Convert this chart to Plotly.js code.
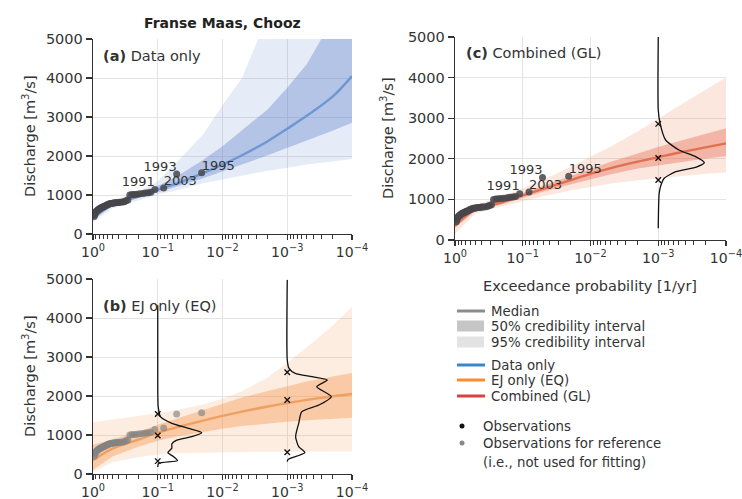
<!DOCTYPE html>
<html>
<head>
<meta charset="utf-8">
<script src="https://cdn.plot.ly/plotly-3.0.1.min.js"></script>
<style>html,body{margin:0;padding:0;background:#fff;}#chart{width:742px;height:499px;}</style>
</head>
<body>
<div id="chart"></div>
<script>
// ---------- data ----------
const probGrid = [1, 0.5, 0.2, 0.1, 0.05, 0.02, 0.01, 0.005, 0.002, 0.001, 5e-4, 2e-4, 1e-4];

// (a) Data only
const aMed  = [400, 760, 960, 1140, 1300, 1560, 1780, 2020, 2380, 2700, 3030, 3520, 4050];
const aLo50 = [360, 720, 920, 1080, 1220, 1430, 1600, 1780, 2020, 2220, 2400, 2650, 2850];
const aHi50 = [440, 800, 1010, 1230, 1480, 1900, 2250, 2650, 3200, 3750, 4350, 5500, 6600];
const aLo95 = [300, 660, 860, 1010, 1120, 1300, 1400, 1500, 1620, 1700, 1780, 1860, 1920];
const aHi95 = [500, 860, 1080, 1350, 1850, 2550, 3300, 4000, 5600, 7000, 8500, 11000, 13000];

// (b) EJ only (EQ)
const bMed  = [350, 650, 880, 1060, 1200, 1370, 1490, 1600, 1730, 1820, 1900, 1990, 2050];
const bLo50 = [100, 450, 700, 850, 960, 1080, 1160, 1230, 1300, 1340, 1380, 1420, 1440];
const bHi50 = [750, 900, 1080, 1260, 1420, 1640, 1800, 1960, 2130, 2250, 2370, 2500, 2590];
const bLo95 = [50, 300, 430, 500, 530, 550, 560, 565, 570, 572, 575, 578, 580];
const bHi95 = [1330, 1400, 1480, 1560, 1640, 1780, 1930, 2120, 2480, 2850, 3250, 3800, 4280];

// (c) Combined (GL)
const cMed  = [350, 750, 930, 1100, 1260, 1470, 1630, 1770, 1930, 2040, 2150, 2280, 2380];
const cLo50 = [300, 710, 880, 1040, 1190, 1370, 1500, 1620, 1760, 1840, 1920, 2010, 2060];
const cHi50 = [400, 790, 980, 1160, 1330, 1580, 1760, 1930, 2130, 2290, 2430, 2620, 2750];
const cLo95 = [150, 650, 830, 960, 1080, 1220, 1310, 1390, 1470, 1520, 1570, 1630, 1660];
const cHi95 = [450, 860, 1080, 1280, 1480, 1800, 2050, 2300, 2680, 3000, 3300, 3700, 4000];

// Observations (annual maxima) with exceedance probabilities
const obsP = [0.021, 0.051, 0.081, 0.111, 0.128, 0.14, 0.155, 0.17, 0.19, 0.21, 0.23, 0.25, 0.27,
  0.29, 0.31, 0.33, 0.35, 0.38, 0.40, 0.42, 0.44, 0.46, 0.48, 0.50,
  0.52, 0.54, 0.56, 0.58, 0.60, 0.62, 0.65, 0.67, 0.69, 0.71,
  0.73, 0.75, 0.77, 0.79, 0.81, 0.83, 0.85, 0.88, 0.90, 0.92, 0.94, 0.96];
const obsQ = [1570, 1540, 1180, 1140, 1070, 1060, 1050, 1040, 1030, 1020, 1015, 1010, 1000,
  870, 850, 830, 820, 815, 810, 805, 800, 800, 795, 790,
  785, 780, 770, 760, 750, 735, 720, 710, 700, 690,
  680, 670, 660, 650, 640, 625, 610, 590, 570, 540, 500, 450];
const yearLabels = ['1995', '1993', '2003', '1991'];

// Posterior densities at selected probabilities (relative density, peak = 1)
const densB1P = 0.1;
const densB1Q = [180, 273, 342, 444, 547, 658, 770, 855, 957, 1060, 1170, 1300, 1470, 1726, 2500, 4330];
const densB1D = [0, 0.02, 0.45, 0.36, 0.23, 0.32, 0.32, 0.41, 0.77, 1.0, 0.70, 0.32, 0.06, 0.01, 0, 0];
const quantB1 = [330, 990, 1540];

const densB2P = 0.001;
const densB2Q = [316, 376, 547, 701, 957, 1299, 1598, 1769, 1983, 2239, 2410, 2496, 2581, 2709, 2923, 4974];
const densB2D = [0, 0.02, 0.40, 0.26, 0.19, 0.26, 0.33, 0.72, 1.0, 0.67, 0.91, 0.56, 0.18, 0.04, 0, 0];
const quantB2 = [560, 1900, 2610];

const densCP = 0.001;
const densCQ = [288, 1150, 1355, 1520, 1683, 1790, 1905, 2052, 2217, 2463, 2874, 3202, 5000];
const densCD = [0, 0.02, 0.06, 0.13, 0.38, 0.81, 1.0, 0.81, 0.45, 0.16, 0.04, 0, 0];
const quantC = [1480, 2020, 2860];

const xTickVals = [1, 0.1, 0.01, 0.001, 0.0001];
const xTickText = ['10<sup>0</sup>', '10<sup>−1</sup>', '10<sup>−2</sup>', '10<sup>−3</sup>', '10<sup>−4</sup>'];
const yTickVals = [0, 1000, 2000, 3000, 4000, 5000];

// ---------- styling ----------
const FONT = 'DejaVu Sans, Verdana, sans-serif';
const TXT = '#333';
const DENS_WIDTH = 0.68; // decades of horizontal extent of density peak

const colors = {
  a: {med: '#7097d2', b50: 'rgba(90,125,200,0.36)', b95: 'rgba(90,125,200,0.15)'},
  b: {med: '#eea060', b50: 'rgba(245,150,80,0.40)', b95: 'rgba(245,150,80,0.17)'},
  c: {med: '#e07050', b50: 'rgba(228,100,70,0.38)', b95: 'rgba(240,120,80,0.18)'}
};

const traces = [];
function bands(xa, ya, med, lo50, hi50, lo95, hi95, col) {
  const base = {x: probGrid, xaxis: xa, yaxis: ya, mode: 'lines', hoverinfo: 'skip', showlegend: false};
  traces.push(Object.assign({}, base, {y: lo95, line: {width: 0}}));
  traces.push(Object.assign({}, base, {y: hi95, line: {width: 0}, fill: 'tonexty', fillcolor: col.b95}));
  traces.push(Object.assign({}, base, {y: lo50, line: {width: 0}}));
  traces.push(Object.assign({}, base, {y: hi50, line: {width: 0}, fill: 'tonexty', fillcolor: col.b50}));
  traces.push(Object.assign({}, base, {y: med, line: {width: 2.4, color: col.med, shape: 'spline'}}));
}
function obs(xa, ya, color, withLabels) {
  traces.push({x: obsP, y: obsQ, xaxis: xa, yaxis: ya, mode: 'markers', showlegend: false, hoverinfo: 'skip',
    marker: {size: 7, color: color, line: {width: 0}}});
  if (withLabels) {
    traces.push({x: obsP.slice(0, 4), y: obsQ.slice(0, 4), xaxis: xa, yaxis: ya, mode: 'text', showlegend: false,
      hoverinfo: 'skip', text: yearLabels,
      textposition: ['top right', 'top left', 'top right', 'top left'],
      textfont: {family: FONT, size: 13, color: TXT}});
  }
}
function density(xa, ya, p0, qs, ds, quants) {
  const lp = Math.log10(p0);
  const xs = ds.map(d => Math.pow(10, lp - DENS_WIDTH * d));
  traces.push({x: xs, y: qs, xaxis: xa, yaxis: ya, mode: 'lines', showlegend: false, hoverinfo: 'skip',
    line: {color: '#111', width: 1.3, shape: 'spline', smoothing: 0.6}});
  traces.push({x: quants.map(() => p0), y: quants, xaxis: xa, yaxis: ya, mode: 'markers', showlegend: false,
    hoverinfo: 'skip', marker: {symbol: 'x-thin-open', size: 5.5, color: '#111', line: {color: '#111', width: 1.4}}});
}

// (a)
bands('x', 'y', aMed, aLo50, aHi50, aLo95, aHi95, colors.a);
obs('x', 'y', 'rgba(70,70,75,0.85)', true);
// (b)
bands('x2', 'y2', bMed, bLo50, bHi50, bLo95, bHi95, colors.b);
obs('x2', 'y2', 'rgba(130,130,130,0.65)', false);
density('x2', 'y2', densB1P, densB1Q, densB1D, quantB1);
density('x2', 'y2', densB2P, densB2Q, densB2D, quantB2);
// (c)
bands('x3', 'y3', cMed, cLo50, cHi50, cLo95, cHi95, colors.c);
obs('x3', 'y3', 'rgba(70,70,75,0.85)', true);
density('x3', 'y3', densCP, densCQ, densCD, quantC);

// minor tick positions (2..9 within each decade)
const minorVals = [];
for (let e = 0; e > -4; e--) for (let m = 2; m <= 9; m++) minorVals.push(m * Math.pow(10, e - 1));

function xax(domain, anchor) {
  return {type: 'log', range: [0, -4], autorange: false, domain: domain, anchor: anchor,
    tickmode: 'array', tickvals: xTickVals, ticktext: xTickText,
    ticks: 'outside', ticklen: 5, tickwidth: 1.2, tickcolor: TXT,
    showline: true, linecolor: TXT, linewidth: 1.3, mirror: false,
    showgrid: true, gridcolor: '#e4e4e4', gridwidth: 1, zeroline: false,
    ticklabeloverflow: 'allow',
    tickfont: {family: FONT, size: 14, color: TXT},
    minor: {tickmode: 'array', tickvals: minorVals, ticks: 'outside', ticklen: 3.5, tickwidth: 1, tickcolor: TXT, showgrid: false}};
}
function yax(domain, anchor) {
  return {range: [0, 5000], autorange: false, domain: domain, anchor: anchor,
    tickmode: 'array', tickvals: yTickVals,
    ticks: 'outside', ticklen: 6, tickwidth: 1.2, tickcolor: TXT,
    showline: true, linecolor: TXT, linewidth: 1.3,
    showgrid: true, gridcolor: '#e4e4e4', gridwidth: 1, zeroline: false,
    ticklabeloverflow: 'allow',
    tickfont: {family: FONT, size: 14.5, color: TXT}};
}

const W = 742, H = 499;
const px = v => v / W, py = v => 1 - v / H;

const ann = [];
function txt(x, y, text, opts) {
  ann.push(Object.assign({xref: 'paper', yref: 'paper', x: px(x), y: py(y), text: text, showarrow: false,
    xanchor: 'left', yanchor: 'middle', font: {family: FONT, size: 14.5, color: TXT}}, opts || {}));
}
txt(222, 23, '<b>Franse Maas, Chooz</b>', {xanchor: 'center', font: {family: FONT, size: 14, color: '#222'}});
txt(101, 56, '<b>(a)</b> Data only');
txt(101, 306, '<b>(b)</b> EJ only (EQ)');
txt(464, 53, '<b>(c)</b> Combined (GL)');
txt(29, 136, 'Discharge [m<sup>3</sup>/s]', {xanchor: 'center', textangle: -90});
txt(29, 376, 'Discharge [m<sup>3</sup>/s]', {xanchor: 'center', textangle: -90});
txt(387, 138, 'Discharge [m<sup>3</sup>/s]', {xanchor: 'center', textangle: -90});
txt(590, 286, 'Exceedance probability [1/yr]', {xanchor: 'center'});

// legend (drawn manually)
const shapes = [];
const LF = {family: FONT, size: 13.3, color: TXT};
function legLine(y, color, label) {
  shapes.push({type: 'line', xref: 'paper', yref: 'paper', x0: px(457), x1: px(485), y0: py(y), y1: py(y),
    line: {color: color, width: 3}});
  txt(489, y, label, {font: LF});
}
function legBox(y, color, label) {
  shapes.push({type: 'rect', xref: 'paper', yref: 'paper', x0: px(457), x1: px(484), y0: py(y - 5.5), y1: py(y + 5.5),
    line: {width: 0}, fillcolor: color});
  txt(489, y, label, {font: LF});
}
function legDot(y, color, label) {
  shapes.push({type: 'circle', xref: 'paper', yref: 'paper', x0: px(459.5), x1: px(464.5), y0: py(y - 2.5), y1: py(y + 2.5),
    line: {width: 0}, fillcolor: color});
  txt(481, y, label, {font: LF});
}
legLine(311, '#8c8c8c', 'Median');
legBox(326, '#c6c6c6', '50% credibility interval');
legBox(342, '#e3e3e3', '95% credibility interval');
legLine(365, '#3a86c6', 'Data only');
legLine(380, '#ff8b2c', 'EJ only (EQ)');
legLine(396, '#d9403e', 'Combined (GL)');
legDot(426, '#111', 'Observations');
legDot(443, '#888', 'Observations for reference');
txt(481, 462, '(i.e., not used for fitting)', {font: LF});

const layout = {
  width: W, height: H,
  margin: {l: 0, r: 0, t: 0, b: 0, pad: 0},
  paper_bgcolor: '#fff', plot_bgcolor: '#fff',
  font: {family: FONT, color: TXT},
  showlegend: false,
  xaxis: xax([93 / W, 352 / W], 'y'),
  yaxis: yax([1 - 234 / H, 1 - 39 / H], 'x'),
  xaxis2: xax([93 / W, 352 / W], 'y2'),
  yaxis2: yax([1 - 474 / H, 1 - 279 / H], 'x2'),
  xaxis3: xax([455 / W, 726 / W], 'y3'),
  yaxis3: yax([1 - 240 / H, 1 - 37 / H], 'x3'),
  annotations: ann,
  shapes: shapes
};

Plotly.newPlot('chart', traces, layout, {staticPlot: true, displayModeBar: false});
</script>
</body>
</html>
